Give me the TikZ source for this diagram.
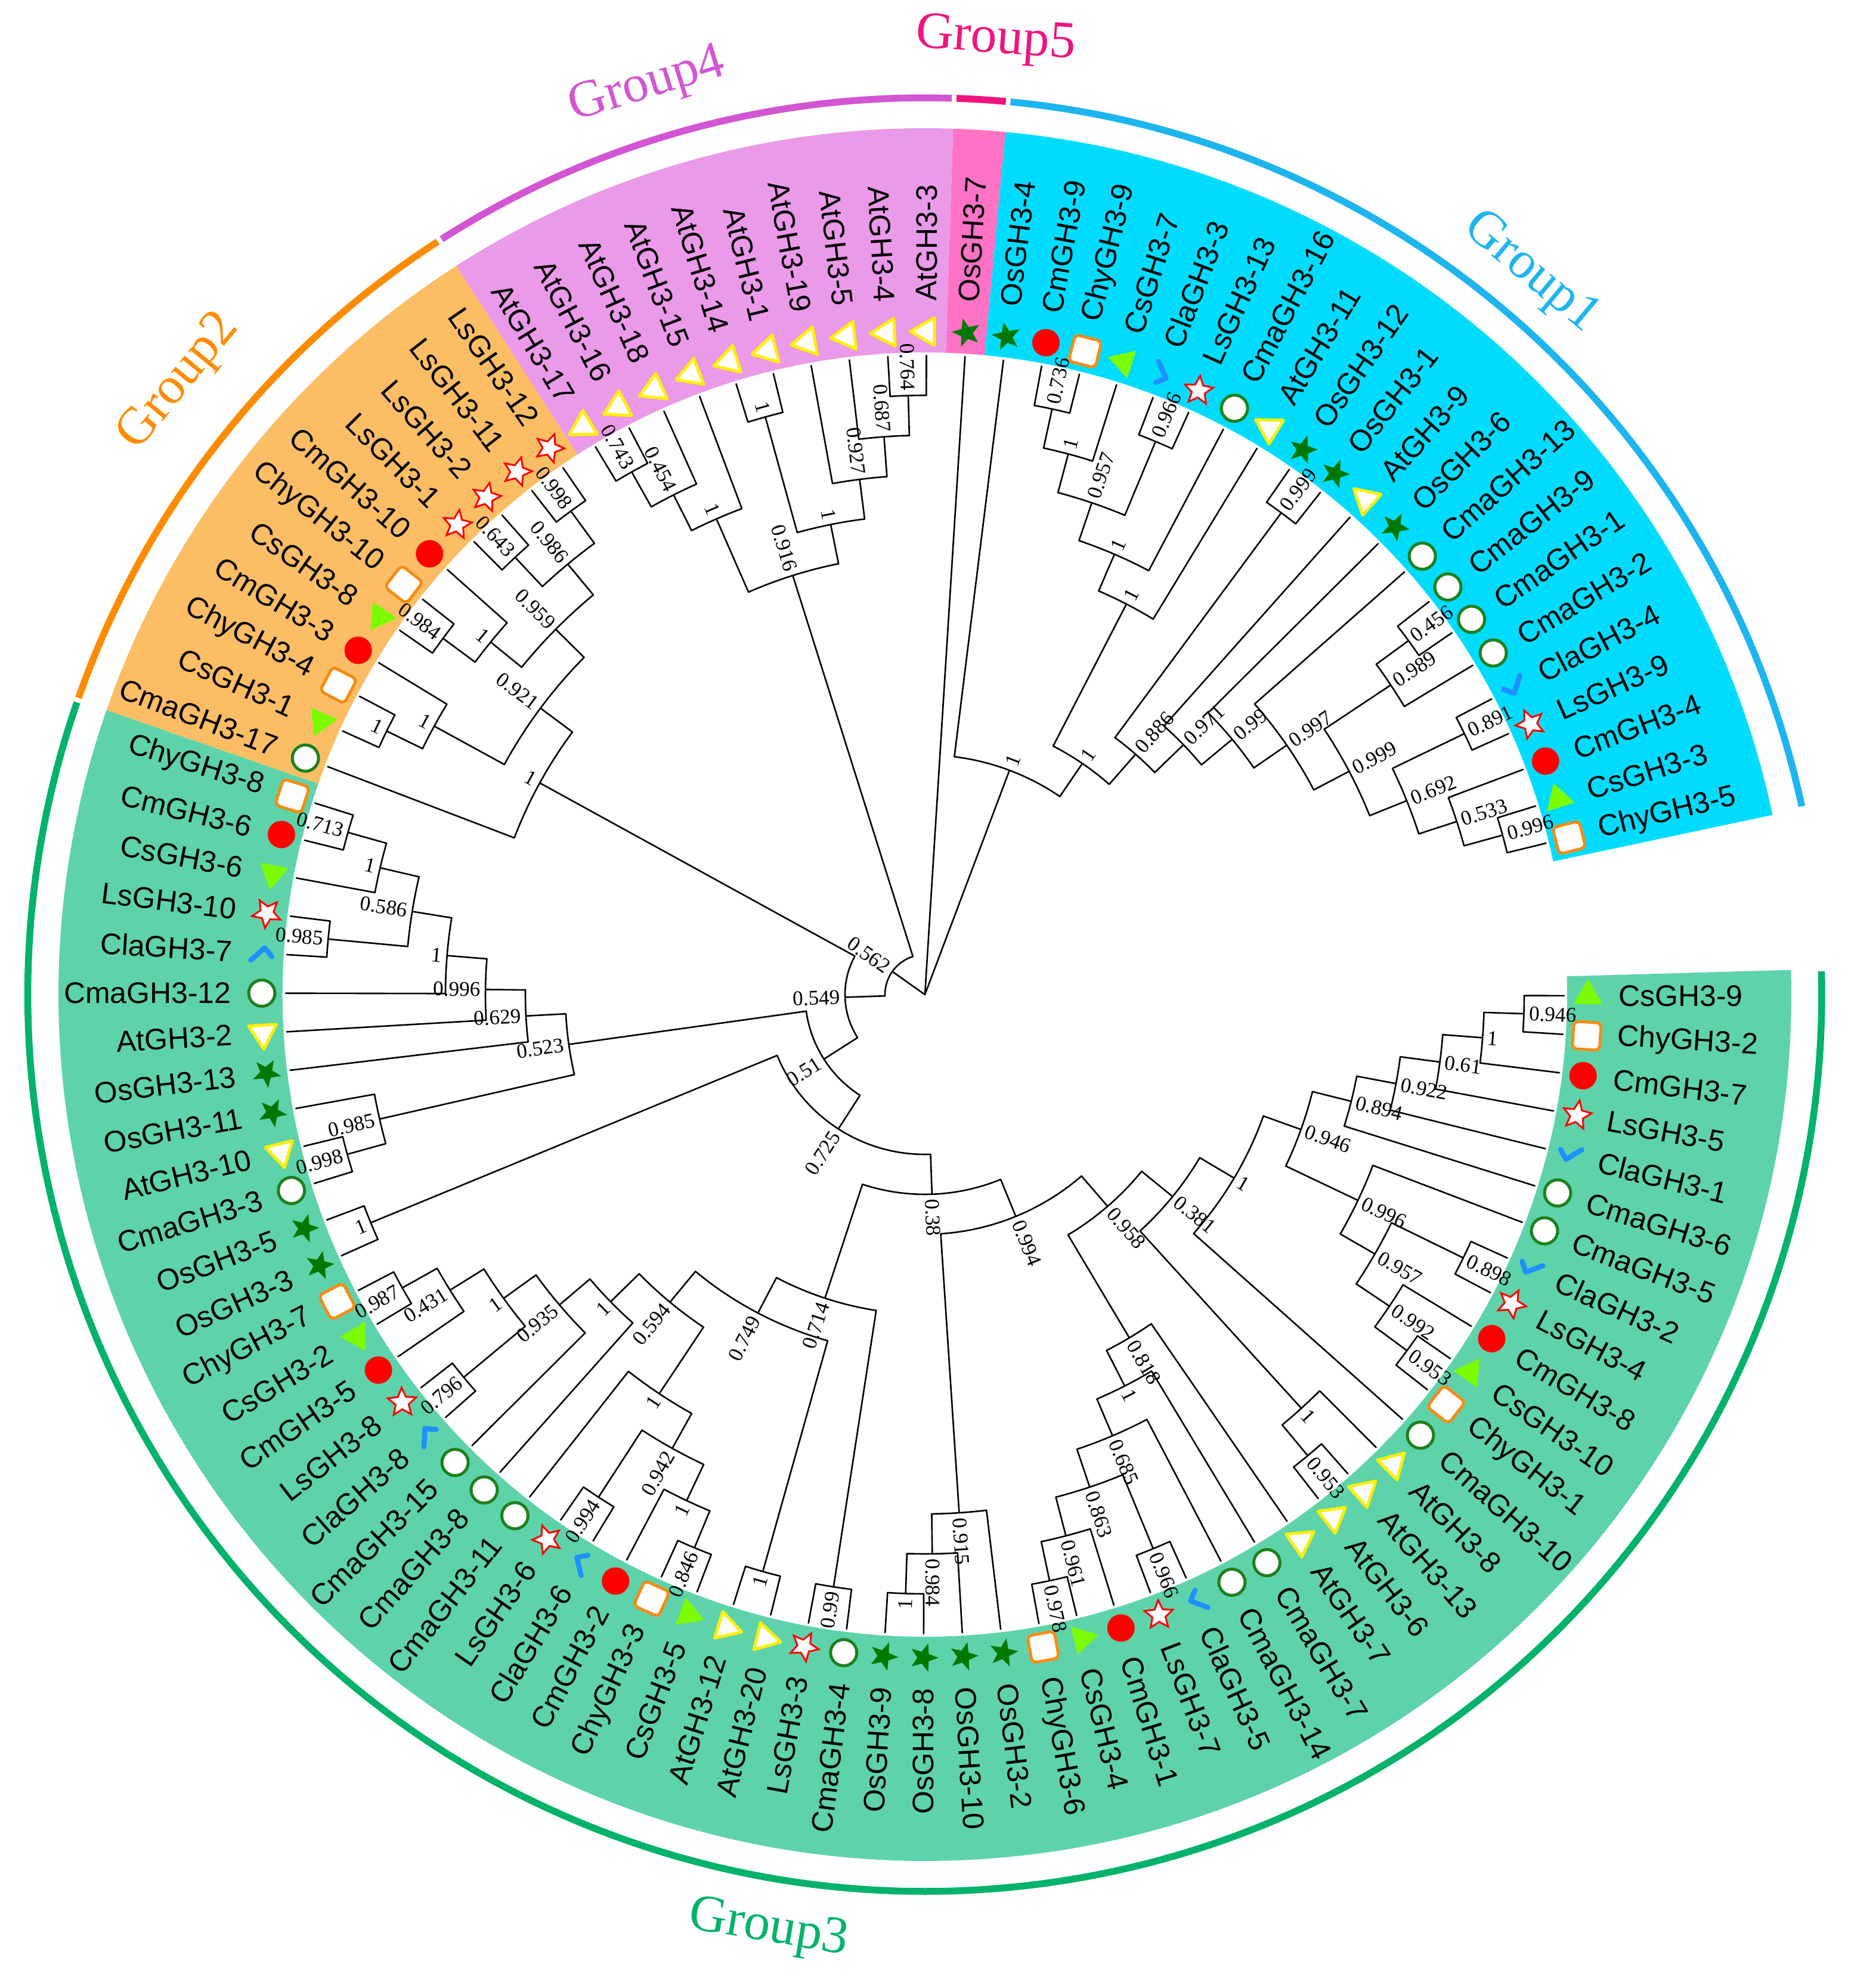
\documentclass[tikz,border=0pt]{standalone}
\usepackage{fontspec}
\setmainfont{Liberation Serif}
\newfontfamily\leaffont{Liberation Sans}
\definecolor{cmred}{RGB}{255,0,0}
\definecolor{cmagreen}{RGB}{30,128,30}
\definecolor{chyor}{RGB}{245,140,20}
\definecolor{cslime}{RGB}{124,252,0}
\definecolor{atyel}{RGB}{255,240,0}
\definecolor{osgreen}{RGB}{0,120,0}
\definecolor{lsred}{RGB}{255,0,0}
\definecolor{clablue}{RGB}{30,144,255}
\definecolor{bgA}{RGB}{0,220,255}
\definecolor{bgE}{RGB}{255,115,198}
\definecolor{bgD}{RGB}{234,154,232}
\definecolor{bgB}{RGB}{253,189,100}
\definecolor{bgC}{RGB}{94,211,170}
\definecolor{arA}{RGB}{29,181,240}
\definecolor{arE}{RGB}{240,20,127}
\definecolor{arD}{RGB}{211,85,211}
\definecolor{arB}{RGB}{255,140,0}
\definecolor{arC}{RGB}{0,178,106}
% markers (local frame, rotated with the leaf angle)
\newcommand\mCm{\fill[cmred] (0,0) circle (2.3mm);}
\newcommand\mCma{\draw[cmagreen, line width=0.5mm, fill=white] (0,0) circle (2.2mm);}
\newcommand\mChy{\draw[chyor, line width=0.5mm, fill=white, rounded corners=0.8mm] (-2.3mm,-2.3mm) rectangle (2.3mm,2.3mm);}
\newcommand\mCs{\fill[cslime] (90:2.8mm) -- (210:2.8mm) -- (330:2.8mm) -- cycle;}
\newcommand\mAt{\draw[atyel, line width=0.5mm, fill=white, line join=round] (90:2.7mm) -- (210:2.7mm) -- (330:2.7mm) -- cycle;}
\newcommand\mOs{\fill[osgreen] (90:2.5mm) -- (126:1.05mm) -- (162:2.5mm) -- (198:1.05mm) -- (234:2.5mm) -- (270:1.05mm) -- (306:2.5mm) -- (342:1.05mm) -- (18:2.5mm) -- (54:1.05mm) -- cycle;}
\newcommand\mLs{\draw[lsred, line width=0.3mm, fill=white, line join=miter] (90:2.5mm) -- (126:1.15mm) -- (162:2.5mm) -- (198:1.15mm) -- (234:2.5mm) -- (270:1.15mm) -- (306:2.5mm) -- (342:1.15mm) -- (18:2.5mm) -- (54:1.15mm) -- cycle;}
\newcommand\mCla{\draw[clablue, line width=0.85mm, line cap=round, line join=round] (-1.5mm,0.5mm) -- (-0.2mm,-0.9mm) -- (2.0mm,1.3mm);}
% internal node: height, first child idx, last child idx, label, parent height, name
\newcommand\Nd[6]{%
  \pgfmathsetmacro\zza{13.7+3.462*(#2)}%
  \pgfmathsetmacro\zzb{13.7+3.462*(#3)}%
  \pgfmathsetmacro\zzm{13.7+3.462*((#2)+(#3))/2}%
  \pgfmathsetmacro\zzr{(16-#1)*6.7}%
  \pgfmathsetmacro\zzp{(16-#5)*6.7}%
  \pgfmathsetmacro\zzl{(16-#1)*6.7+0.8}%
  \draw[br] (\zza:\zzr mm) arc[start angle=\zza, end angle=\zzb, radius=\zzr mm];
  \draw[br] (\zzm:\zzp mm) -- (\zzm:\zzr mm);
  \pgfmathsetmacro\zzq{mod(\zzm,360)}%
  \pgfmathtruncatemacro\zzleft{(\zzq>90)*(\zzq<270)}%
  \ifnum\zzleft=1 \pgfmathsetmacro\zzrot{\zzq-180}\def\zzanc{east}\else\pgfmathsetmacro\zzrot{\zzq}\def\zzanc{west}\fi
  \node[bs, anchor=\zzanc, rotate=\zzrot] (#6) at (\zzm:\zzl mm) {#4};
}
% leaf: idx, text, marker, parent height, name
\newcommand\Lf[5]{%
  \pgfmathsetmacro\zza{13.7+3.462*(#1)}%
  \pgfmathsetmacro\zzp{(16-#4)*6.7}%
  \draw[br] (\zza:\zzp mm) -- (\zza:107.2mm);
  \begin{scope}[shift={(\zza:111.2mm)}, rotate=\zza] #3 \end{scope}
  \pgfmathsetmacro\zzq{mod(\zza,360)}%
  \pgfmathtruncatemacro\zzleft{(\zzq>90)*(\zzq<270)}%
  \ifnum\zzleft=1 \pgfmathsetmacro\zzrot{\zzq-180}\def\zzanc{east}\else\pgfmathsetmacro\zzrot{\zzq}\def\zzanc{west}\fi
  \node[lf, anchor=\zzanc, rotate=\zzrot] (#5) at (\zza:116.3mm) {#2};
}
\newcommand\Sect[3]{%
  \pgfmathsetmacro\zza{13.7+3.462*(#1)}\pgfmathsetmacro\zzb{13.7+3.462*(#2)}%
  \fill[#3] (\zza:107.7mm) arc[start angle=\zza, end angle=\zzb, radius=107.7mm] -- (\zzb:145.3mm) arc[start angle=\zzb, end angle=\zza, radius=145.3mm] -- cycle;}
\newcommand\GArc[3]{%
  \pgfmathsetmacro\zza{13.7+3.462*(#1)+0.15}\pgfmathsetmacro\zzb{13.7+3.462*(#2)-0.15}%
  \draw[line width=1.15mm, #3] (\zza:150.4mm) arc[start angle=\zza, end angle=\zzb, radius=150.4mm];}
\begin{document}
\begin{tikzpicture}[
  br/.style={line width=0.26mm, black, line cap=round, line join=round},
  bs/.style={font=\fontsize{10}{10}\selectfont, inner sep=0pt},
  lf/.style={font=\leaffont\fontsize{14.2}{15}\selectfont, inner sep=0pt},
  gl/.style={font=\fontsize{25}{25}\selectfont, inner sep=0pt}]
\useasboundingbox (-155.1mm,-166.6mm) rectangle (155.2mm,166.8mm);
% clade backgrounds
\Sect{-0.5}{20.5}{bgA}
\Sect{20.5}{21.5}{bgE}
\Sect{21.5}{31.5}{bgD}
\Sect{31.5}{42.5}{bgB}
\Sect{42.5}{100.5}{bgC}
% group arcs
\GArc{-0.5}{20.5}{arA}
\GArc{20.5}{21.5}{arE}
\GArc{21.5}{31.5}{arD}
\GArc{31.5}{42.5}{arB}
\GArc{42.5}{100.5}{arC}
% group labels
\node[gl, text=arA, rotate=-40] (grp1) at (50.0:158.0mm) {Group1};
\node[gl, text=arB, rotate=50.6] (grp2) at (140.6:161.8mm) {Group2};
\node[gl, text=arC, rotate=-9.5] (grp3) at (260.5:159.0mm) {Group3};
\node[gl, text=arD, rotate=17] (grp4) at (107.0:159.3mm) {Group4};
\node[gl, text=arE, rotate=-4.2] (grp5) at (85.76:160.4mm) {Group5};
% ---- tree: Group1
\Nd{1}{18}{19}{0.736}{2}{A1}
\Nd{2}{18.5}{17}{1}{3}{A2}
\Nd{1}{15}{16}{0.966}{3}{A3}
\Nd{3}{17.75}{15.5}{0.957}{4}{A4}
\Nd{4}{16.625}{14}{1}{5}{A5}
\Nd{5}{15.3125}{13}{1}{9}{A6}
\Nd{1}{11}{12}{0.999}{8}{A9}
\Nd{1}{6}{7}{0.456}{2}{B1}
\Nd{2}{6.5}{5}{0.989}{4}{B2}
\Nd{1}{3}{4}{0.891}{3}{B3}
\Nd{1}{0}{1}{0.996}{2}{B4}
\Nd{2}{2}{0.5}{0.533}{3}{B5}
\Nd{3}{3.5}{1.25}{0.692}{4}{B6}
\Nd{4}{5.75}{2.375}{0.999}{5}{B7}
\Nd{5}{8}{4.0625}{0.997}{6}{B8}
\Nd{6}{9}{6.03125}{0.99}{7}{B9}
\Nd{7}{10}{7.515625}{0.971}{8}{B10}
\Nd{8}{11.5}{8.7578125}{0.886}{9}{A8}
\Nd{9}{14.15625}{10.12890625}{1}{10}{A7}
\Nd{10}{20}{12.142578125}{1}{16}{G1}
% ---- Group4
\Nd{1}{22}{23}{0.764}{2}{C1}
\Nd{2}{22.5}{24}{0.687}{3}{C2}
\Nd{3}{23.25}{25}{0.927}{4}{C3}
\Nd{1}{26}{27}{1}{4}{C4}
\Nd{4}{24.125}{26.5}{1}{5}{C5}
\Nd{1}{30}{31}{0.743}{2}{D1}
\Nd{2}{29}{30.5}{0.454}{3}{D2}
\Nd{3}{28}{29.75}{1}{5}{D3}
\Nd{5}{25.3125}{28.875}{0.916}{15}{D4}
% ---- Group2
\Nd{1}{32}{33}{0.998}{2}{E1}
\Nd{1}{34}{35}{0.643}{2}{E2}
\Nd{2}{32.5}{34.5}{0.986}{3}{E3}
\Nd{1}{37}{38}{0.984}{2}{E4}
\Nd{2}{36}{37.5}{1}{3}{E5}
\Nd{3}{33.5}{36.75}{0.959}{4}{E6}
\Nd{1}{40}{41}{1}{2}{E7}
\Nd{2}{39}{40.5}{1}{4}{E8}
\Nd{4}{35.125}{39.75}{0.921}{5}{E9}
\Nd{5}{37.4375}{42}{1}{14}{G2}
% ---- Group3
\Nd{1}{43}{44}{0.713}{2}{F1}
\Nd{2}{43.5}{45}{1}{3}{F2}
\Nd{1}{46}{47}{0.985}{3}{F3}
\Nd{3}{44.25}{46.5}{0.586}{4}{F4}
\Nd{4}{45.375}{48}{1}{5}{F5}
\Nd{5}{46.6875}{49}{0.996}{6}{F6}
\Nd{6}{47.84375}{50}{0.629}{7}{F7}
\Nd{1}{52}{53}{0.998}{2}{F9a}
\Nd{2}{51}{52.5}{0.985}{7}{F9}
\Nd{7}{48.921875}{51.75}{0.523}{13}{F8}
\Nd{1}{54}{55}{1}{12}{X1}
\Nd{1}{56}{57}{0.987}{2}{W0}
\Nd{2}{56.5}{58}{0.431}{3}{W0b}
\Nd{1}{59}{60}{0.796}{3}{W2}
\Nd{3}{57.25}{59.5}{1}{4}{W1}
\Nd{4}{58.375}{61}{0.935}{5}{W4}
\Nd{5}{59.6875}{62}{1}{6}{W3}
\Nd{1}{64}{65}{0.994}{3}{Z4}
\Nd{1}{67}{68}{0.846}{2}{Z6}
\Nd{2}{66}{67.5}{1}{3}{Z5}
\Nd{3}{64.5}{66.75}{0.942}{4}{Z3}
\Nd{4}{63}{65.625}{1}{6}{Z2}
\Nd{6}{60.84375}{64.3125}{0.594}{7}{Na}
\Nd{1}{69}{70}{1}{7}{Z1}
\Nd{7}{62.578125}{69.5}{0.749}{8}{N749}
\Nd{1}{71}{72}{0.99}{8}{Y1}
\Nd{8}{66.0390625}{71.5}{0.714}{11}{N714}
\Nd{1}{73}{74}{1}{2}{H1}
\Nd{2}{73.5}{75}{0.984}{3}{H2}
\Nd{3}{74.25}{76}{0.915}{10}{H3}
\Nd{1}{77}{78}{0.978}{2}{K1}
\Nd{2}{77.5}{79}{0.961}{3}{K2}
\Nd{1}{80}{81}{0.966}{3}{K3}
\Nd{3}{78.25}{80.5}{0.863}{4}{K4}
\Nd{4}{79.375}{82}{0.685}{5}{K5}
\Nd{5}{80.6875}{83}{1}{6}{K6}
\Nd{6}{81.84375}{84}{0.818}{9}{K7}
\Nd{1}{85}{86}{0.953}{2}{V0}
\Nd{2}{85.5}{87}{1}{8}{V1}
\Nd{1}{89}{90}{0.953}{2}{Q1}
\Nd{2}{89.5}{91}{0.992}{3}{Q2}
\Nd{1}{92}{93}{0.898}{3}{Q3}
\Nd{3}{90.25}{92.5}{0.957}{4}{Q4}
\Nd{4}{91.375}{94}{0.996}{6}{Q5}
\Nd{1}{99}{100}{0.946}{2}{U1}
\Nd{2}{98}{99.5}{1}{3}{T1}
\Nd{3}{97}{98.75}{0.61}{4}{T2}
\Nd{4}{96}{97.875}{0.922}{5}{T3}
\Nd{5}{95}{96.9375}{0.894}{6}{T4}
\Nd{6}{92.6875}{95.96875}{0.946}{7}{T5}
\Nd{7}{88}{94.328125}{1}{8}{S1}
\Nd{8}{86.25}{91.1640625}{0.381}{9}{N381}
\Nd{9}{82.921875}{88.70703125}{0.958}{10}{N958}
\Nd{10}{75.125}{85.814453125}{0.994}{11}{N994}
\Nd{11}{68.76953125}{80.4697265625}{0.38}{12}{N38}
\Nd{12}{54.5}{74.61962890625}{0.725}{13}{N725}
\Nd{13}{50.3359375}{64.559814453125}{0.51}{14}{N51}
\Nd{14}{39.71875}{57.4478759765625}{0.549}{15}{N549}
\Nd{15}{27.09375}{48.58331298828125}{0.562}{16}{N562}
% ---- leaves
\Lf{0}{ChyGH3-5}{\mChy}{1}{L0}
\Lf{1}{CsGH3-3}{\mCs}{1}{L1}
\Lf{2}{CmGH3-4}{\mCm}{2}{L2}
\Lf{3}{LsGH3-9}{\mLs}{1}{L3}
\Lf{4}{ClaGH3-4}{\mCla}{1}{L4}
\Lf{5}{CmaGH3-2}{\mCma}{2}{L5}
\Lf{6}{CmaGH3-1}{\mCma}{1}{L6}
\Lf{7}{CmaGH3-9}{\mCma}{1}{L7}
\Lf{8}{CmaGH3-13}{\mCma}{5}{L8}
\Lf{9}{OsGH3-6}{\mOs}{6}{L9}
\Lf{10}{AtGH3-9}{\mAt}{7}{L10}
\Lf{11}{OsGH3-1}{\mOs}{1}{L11}
\Lf{12}{OsGH3-12}{\mOs}{1}{L12}
\Lf{13}{AtGH3-11}{\mAt}{5}{L13}
\Lf{14}{CmaGH3-16}{\mCma}{4}{L14}
\Lf{15}{LsGH3-13}{\mLs}{1}{L15}
\Lf{16}{ClaGH3-3}{\mCla}{1}{L16}
\Lf{17}{CsGH3-7}{\mCs}{2}{L17}
\Lf{18}{ChyGH3-9}{\mChy}{1}{L18}
\Lf{19}{CmGH3-9}{\mCm}{1}{L19}
\Lf{20}{OsGH3-4}{\mOs}{10}{L20}
\Lf{21}{OsGH3-7}{\mOs}{16}{L21}
\Lf{22}{AtGH3-3}{\mAt}{1}{L22}
\Lf{23}{AtGH3-4}{\mAt}{1}{L23}
\Lf{24}{AtGH3-5}{\mAt}{2}{L24}
\Lf{25}{AtGH3-19}{\mAt}{3}{L25}
\Lf{26}{AtGH3-1}{\mAt}{1}{L26}
\Lf{27}{AtGH3-14}{\mAt}{1}{L27}
\Lf{28}{AtGH3-15}{\mAt}{3}{L28}
\Lf{29}{AtGH3-18}{\mAt}{2}{L29}
\Lf{30}{AtGH3-16}{\mAt}{1}{L30}
\Lf{31}{AtGH3-17}{\mAt}{1}{L31}
\Lf{32}{LsGH3-12}{\mLs}{1}{L32}
\Lf{33}{LsGH3-11}{\mLs}{1}{L33}
\Lf{34}{LsGH3-2}{\mLs}{1}{L34}
\Lf{35}{LsGH3-1}{\mLs}{1}{L35}
\Lf{36}{CmGH3-10}{\mCm}{2}{L36}
\Lf{37}{ChyGH3-10}{\mChy}{1}{L37}
\Lf{38}{CsGH3-8}{\mCs}{1}{L38}
\Lf{39}{CmGH3-3}{\mCm}{2}{L39}
\Lf{40}{ChyGH3-4}{\mChy}{1}{L40}
\Lf{41}{CsGH3-1}{\mCs}{1}{L41}
\Lf{42}{CmaGH3-17}{\mCma}{5}{L42}
\Lf{43}{ChyGH3-8}{\mChy}{1}{L43}
\Lf{44}{CmGH3-6}{\mCm}{1}{L44}
\Lf{45}{CsGH3-6}{\mCs}{2}{L45}
\Lf{46}{LsGH3-10}{\mLs}{1}{L46}
\Lf{47}{ClaGH3-7}{\mCla}{1}{L47}
\Lf{48}{CmaGH3-12}{\mCma}{4}{L48}
\Lf{49}{AtGH3-2}{\mAt}{5}{L49}
\Lf{50}{OsGH3-13}{\mOs}{6}{L50}
\Lf{51}{OsGH3-11}{\mOs}{2}{L51}
\Lf{52}{AtGH3-10}{\mAt}{1}{L52}
\Lf{53}{CmaGH3-3}{\mCma}{1}{L53}
\Lf{54}{OsGH3-5}{\mOs}{1}{L54}
\Lf{55}{OsGH3-3}{\mOs}{1}{L55}
\Lf{56}{ChyGH3-7}{\mChy}{1}{L56}
\Lf{57}{CsGH3-2}{\mCs}{1}{L57}
\Lf{58}{CmGH3-5}{\mCm}{2}{L58}
\Lf{59}{LsGH3-8}{\mLs}{1}{L59}
\Lf{60}{ClaGH3-8}{\mCla}{1}{L60}
\Lf{61}{CmaGH3-15}{\mCma}{4}{L61}
\Lf{62}{CmaGH3-8}{\mCma}{5}{L62}
\Lf{63}{CmaGH3-11}{\mCma}{4}{L63}
\Lf{64}{LsGH3-6}{\mLs}{1}{L64}
\Lf{65}{ClaGH3-6}{\mCla}{1}{L65}
\Lf{66}{CmGH3-2}{\mCm}{2}{L66}
\Lf{67}{ChyGH3-3}{\mChy}{1}{L67}
\Lf{68}{CsGH3-5}{\mCs}{1}{L68}
\Lf{69}{AtGH3-12}{\mAt}{1}{L69}
\Lf{70}{AtGH3-20}{\mAt}{1}{L70}
\Lf{71}{LsGH3-3}{\mLs}{1}{L71}
\Lf{72}{CmaGH3-4}{\mCma}{1}{L72}
\Lf{73}{OsGH3-9}{\mOs}{1}{L73}
\Lf{74}{OsGH3-8}{\mOs}{1}{L74}
\Lf{75}{OsGH3-10}{\mOs}{2}{L75}
\Lf{76}{OsGH3-2}{\mOs}{3}{L76}
\Lf{77}{ChyGH3-6}{\mChy}{1}{L77}
\Lf{78}{CsGH3-4}{\mCs}{1}{L78}
\Lf{79}{CmGH3-1}{\mCm}{2}{L79}
\Lf{80}{LsGH3-7}{\mLs}{1}{L80}
\Lf{81}{ClaGH3-5}{\mCla}{1}{L81}
\Lf{82}{CmaGH3-14}{\mCma}{4}{L82}
\Lf{83}{CmaGH3-7}{\mCma}{5}{L83}
\Lf{84}{AtGH3-7}{\mAt}{6}{L84}
\Lf{85}{AtGH3-6}{\mAt}{1}{L85}
\Lf{86}{AtGH3-13}{\mAt}{1}{L86}
\Lf{87}{AtGH3-8}{\mAt}{2}{L87}
\Lf{88}{CmaGH3-10}{\mCma}{7}{L88}
\Lf{89}{ChyGH3-1}{\mChy}{1}{L89}
\Lf{90}{CsGH3-10}{\mCs}{1}{L90}
\Lf{91}{CmGH3-8}{\mCm}{2}{L91}
\Lf{92}{LsGH3-4}{\mLs}{1}{L92}
\Lf{93}{ClaGH3-2}{\mCla}{1}{L93}
\Lf{94}{CmaGH3-5}{\mCma}{4}{L94}
\Lf{95}{CmaGH3-6}{\mCma}{5}{L95}
\Lf{96}{ClaGH3-1}{\mCla}{4}{L96}
\Lf{97}{LsGH3-5}{\mLs}{3}{L97}
\Lf{98}{CmGH3-7}{\mCm}{2}{L98}
\Lf{99}{ChyGH3-2}{\mChy}{1}{L99}
\Lf{100}{CsGH3-9}{\mCs}{1}{L100}
\end{tikzpicture}
\end{document}
